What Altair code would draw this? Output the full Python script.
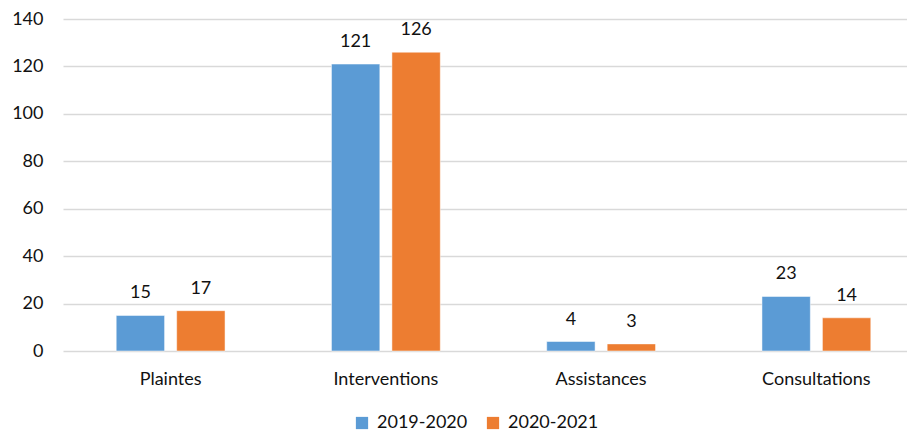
import altair as alt
import pandas as pd

categories = ["Plaintes", "Interventions", "Assistances", "Consultations"]
series = ["2019-2020", "2020-2021"]
values_2019 = [15, 121, 4, 23]
values_2020 = [17, 126, 3, 14]
colors = ["#5B9BD5", "#ED7D31"]

rows = []
for c, a, b in zip(categories, values_2019, values_2020):
    rows.append({"cat": c, "serie": series[0], "val": a})
    rows.append({"cat": c, "serie": series[1], "val": b})
df = pd.DataFrame(rows)

FONT = "Lato"
FS = 18
TXT = "#111111"

x = alt.X("cat:N", sort=categories, title=None,
          scale=alt.Scale(range=[0, 861], paddingInner=0, paddingOuter=0),
          axis=alt.Axis(labelAngle=0, labelFontSize=FS, labelFont=FONT, labelColor=TXT,
                        labelPadding=19, ticks=False, domain=False, grid=False))
xo = alt.XOffset("serie:N", sort=series,
                 scale=alt.Scale(paddingInner=0.2, paddingOuter=0.88))
y = alt.Y("val:Q", title=None,
          scale=alt.Scale(domain=[0, 140]),
          axis=alt.Axis(values=list(range(0, 141, 20)), labelFontSize=FS, labelFont=FONT,
                        labelColor=TXT, labelPadding=20, ticks=False, domain=False,
                        grid=True, gridColor="#D9D9D9", gridWidth=1.5))

bars = alt.Chart(df).mark_bar(stroke="white", strokeWidth=0.5).encode(
    x=x, xOffset=xo, y=y,
    color=alt.Color("serie:N", sort=series,
                    scale=alt.Scale(domain=series, range=colors),
                    legend=alt.Legend(title=None, orient="none", direction="horizontal",
                                      legendX=290, legendY=395, symbolType="square",
                                      symbolSize=150, symbolStrokeWidth=0,
                                      labelFontSize=FS, labelFont=FONT, labelColor=TXT,
                                      columnPadding=16, labelOffset=6)),
)

labels = alt.Chart(df).mark_text(baseline="middle", dy=-22, fontSize=FS, font=FONT,
                                 color=TXT).encode(
    x=alt.X("cat:N", sort=categories),
    xOffset=alt.XOffset("serie:N", sort=series),
    y="val:Q",
    text="val:Q",
)

chart = (bars + labels).properties(
    width=844, height=332,
    autosize=alt.AutoSizeParams(type="none"),
    padding={"left": 55, "top": 11, "right": 0, "bottom": 80},
).configure_view(stroke=None)

chart.save("out.html", embed_options={"renderer": "svg", "actions": False})
